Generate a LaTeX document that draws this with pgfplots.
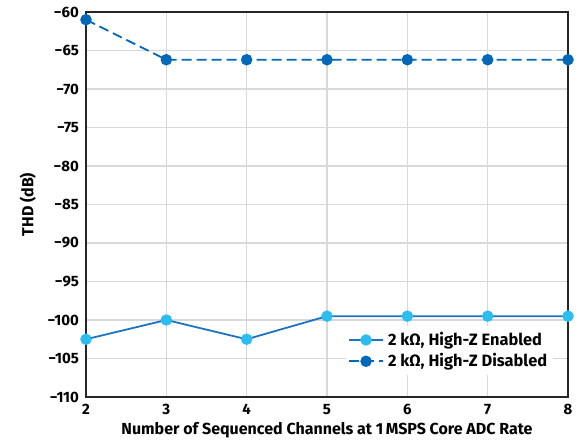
\documentclass[border=0pt]{standalone}
\usepackage{fontspec}
\setmainfont{Fira Sans}
\usepackage{pgfplots}
\pgfplotsset{compat=1.18}
\definecolor{enab}{HTML}{2CBDF0}
\definecolor{enabline}{HTML}{1C74C4}
\definecolor{disab}{HTML}{0068B8}
\begin{document}
\begin{tikzpicture}
\begin{axis}[
  scale only axis, width=241pt, height=192.5pt,
  xmin=2, xmax=8, ymin=-110, ymax=-60,
  xtick={2,...,8}, ytick={-110,-105,...,-60},
  yticklabels={−110,−105,−100,−95,−90,−85,−80,−75,−70,−65,−60},
  major tick length=0pt,
  grid=major, grid style={gray!30, line width=0.6pt},
  axis line style={black!85, line width=0.9pt},
  ticklabel style={font=\fontsize{7.5}{9}\selectfont\bfseries},
  /pgf/number format/assume math mode=true,
  xlabel={Number of Sequenced Channels at 1\,MSPS Core ADC Rate},
  ylabel={THD (dB)},
  label style={font=\fontsize{8}{9}\selectfont\bfseries},
  xlabel style={yshift=3pt},
  ylabel style={yshift=-1pt},
  legend style={at={(0.97,0.055)}, anchor=south east, draw=none, fill=white,
    font=\fontsize{8.2}{9}\selectfont\bfseries, row sep=-1.5pt, inner sep=1pt},
  legend cell align=left,
]
\addplot[enabline, line width=0.9pt, mark=*, mark size=2.4pt,
  mark options={fill=enab, draw=enab, solid}]
  coordinates {(2,-102.5) (3,-100.0) (4,-102.5) (5,-99.5) (6,-99.5) (7,-99.5) (8,-99.5)};
\addlegendentry{2 kΩ, High-Z Enabled}
\addplot[disab, line width=0.9pt, dash pattern=on 5pt off 2.5pt, mark=*, mark size=2.4pt,
  mark options={fill=disab, draw=disab, solid}]
  coordinates {(2,-61.0) (3,-66.2) (4,-66.2) (5,-66.2) (6,-66.2) (7,-66.2) (8,-66.2)};
\addlegendentry{2 kΩ, High-Z Disabled}
\end{axis}
\pgfresetboundingbox
\path (-43pt,-23pt) rectangle (247.5pt,198.5pt);
\end{tikzpicture}
\end{document}
